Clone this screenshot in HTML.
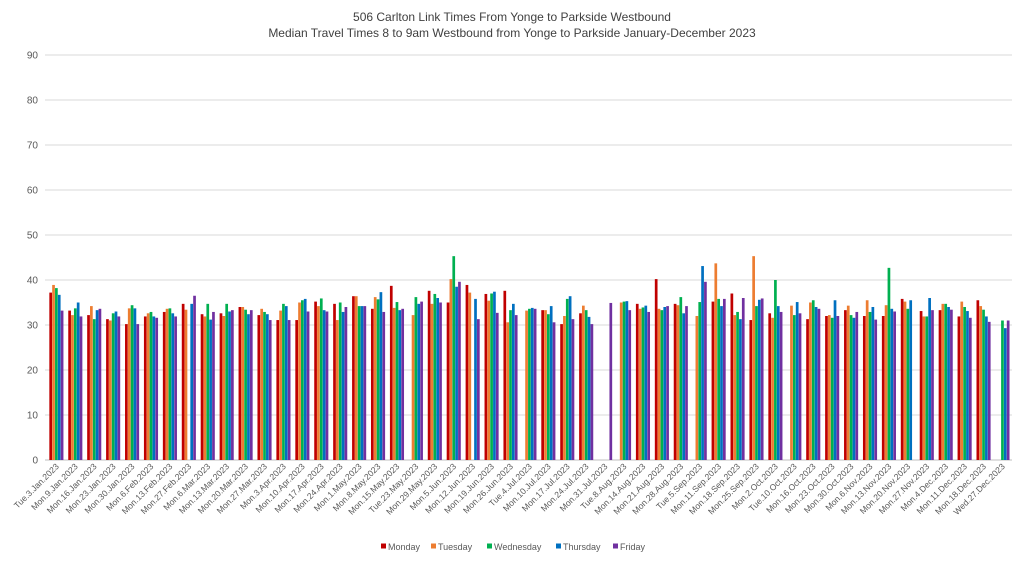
<!DOCTYPE html>
<html><head><meta charset="utf-8"><style>
html,body{margin:0;padding:0;background:#fff;}
svg{display:block;font-family:"Liberation Sans",sans-serif;}
</style></head><body>
<svg id="chart" width="1024" height="563" viewBox="0 0 1024 563">
<text x="512" y="21" text-anchor="middle" font-size="12" fill="#404040">506 Carlton Link Times From Yonge to Parkside Westbound</text>
<text x="512" y="37" text-anchor="middle" font-size="12" fill="#404040">Median Travel Times 8 to 9am Westbound from Yonge to Parkside January-December 2023</text>
<g id="grid"></g>
<g id="yaxis"></g>
<g id="bars"></g>
<g id="xaxis"></g>
<g id="legend"></g>
</svg>
<script>
const categories=["Tue.3.Jan.2023","Mon.9.Jan.2023","Mon.16.Jan.2023","Mon.23.Jan.2023","Mon.30.Jan.2023","Mon.6.Feb.2023","Mon.13.Feb.2023","Mon.27.Feb.2023","Mon.6.Mar.2023","Mon.13.Mar.2023","Mon.20.Mar.2023","Mon.27.Mar.2023","Mon.3.Apr.2023","Mon.10.Apr.2023","Mon.17.Apr.2023","Mon.24.Apr.2023","Mon.1.May.2023","Mon.8.May.2023","Mon.15.May.2023","Tue.23.May.2023","Mon.29.May.2023","Mon.5.Jun.2023","Mon.12.Jun.2023","Mon.19.Jun.2023","Mon.26.Jun.2023","Tue.4.Jul.2023","Mon.10.Jul.2023","Mon.17.Jul.2023","Mon.24.Jul.2023","Mon.31.Jul.2023","Tue.8.Aug.2023","Mon.14.Aug.2023","Mon.21.Aug.2023","Mon.28.Aug.2023","Tue.5.Sep.2023","Mon.11.Sep.2023","Mon.18.Sep.2023","Mon.25.Sep.2023","Mon.2.Oct.2023","Tue.10.Oct.2023","Mon.16.Oct.2023","Mon.23.Oct.2023","Mon.30.Oct.2023","Mon.6.Nov.2023","Mon.13.Nov.2023","Mon.20.Nov.2023","Mon.27.Nov.2023","Mon.4.Dec.2023","Mon.11.Dec.2023","Mon.18.Dec.2023","Wed.27.Dec.2023"];
const monday=[37.2,33.2,32.2,31.3,30.2,31.9,32.9,34.7,32.4,32.6,34,32.2,31.1,31.1,35.2,34.7,36.4,33.6,38.7,null,37.6,35,38.9,36.9,37.6,null,33.3,30.2,32.6,null,null,34.7,40.2,34.7,null,35.2,37,31.1,32.6,null,31.3,32,33.3,32,32,35.8,33.1,33.3,31.9,35.5,null];
const tuesday=[38.9,32.2,34.2,31,33.7,32.6,33.6,33.4,31.9,32,34,33.6,33.2,35,34.2,31.1,36.4,36.2,33.8,32.2,34.7,40.2,37.2,35.4,30.6,33.2,33.3,32,34.3,null,35,33.6,33.6,34.4,32,43.7,32.2,45.3,31.6,34.3,35,32.2,34.3,35.5,34.4,35.2,31.9,34.7,35.2,34.2,null];
const wednesday=[38.2,33.7,31.3,32.6,34.4,32.9,33.7,null,34.7,34.7,33.4,32.9,34.7,35.5,35.9,35,34.2,35.7,35.1,36.2,36.9,45.3,null,37,33.3,33.6,32.4,35.8,33.3,null,35.2,33.9,33.3,36.2,35.1,35.8,32.9,34.2,40,32.2,35.5,31.6,32.2,32.9,42.7,33.6,31.9,34.7,34,33.4,31];
const thursday=[36.7,35,33.3,33,33.7,31.9,32.6,34.7,31.2,33,32.4,32.4,34.2,35.8,33.3,32.9,34.2,37.3,33.3,34.7,36,38.5,35.8,37.4,34.7,33.8,34.2,36.4,31.8,null,35.3,34.3,34,32.6,43.1,34.2,31.3,35.6,34.2,35.1,34,35.5,31.6,34,33.6,35.5,36,34,33.1,31.9,29.3];
const friday=[33.2,31.9,33.6,31.9,30.2,31.6,31.9,36.5,32.9,33.3,33.3,31.1,31.1,33,33,34,34.2,32.9,33.6,35.2,35,39.6,31.3,32.7,32.2,33.6,30.6,31.3,30.2,34.9,33.3,32.9,34.2,34.2,39.6,35.8,36,35.9,32.9,32.6,33.6,32,32.9,31.2,33,null,33.3,33.4,31.6,30.7,31];
const seriesNames=["Monday","Tuesday","Wednesday","Thursday","Friday"];
const yTicks=[0,10,20,30,40,50,60,70,80,90];
const series=[monday,tuesday,wednesday,thursday,friday];
const colors=["#C00000","#ED7D31","#00B050","#0070C0","#7030A0"];
const NS="http://www.w3.org/2000/svg";
const X0=47,X1=1012,Y0=460,Y1=55,YMAX=90;
const y=v=>Y0-(v/YMAX)*(Y0-Y1);
const cw=(X1-X0)/categories.length;
const x=i=>X0+i*cw;
function mk(tag,attrs,parent){const e=document.createElementNS(NS,tag);for(const k in attrs)e.setAttribute(k,attrs[k]);parent.appendChild(e);return e;}
const grid=document.getElementById('grid'),yax=document.getElementById('yaxis'),bars=document.getElementById('bars'),xax=document.getElementById('xaxis'),leg=document.getElementById('legend');
yTicks.forEach(t=>{
  const l=mk('line',{x1:X0-2,x2:X1,y1:y(t),y2:y(t),stroke:t===0?'#bfbfbf':'#d9d9d9','stroke-width':1},grid);
  
  
  const tx=mk('text',{x:X0-9,y:y(t)+3.5,'text-anchor':'end','font-size':10,fill:'#595959'},yax);
  tx.textContent=t;
  
  
});
const bw=2.7,bs=2.85;
categories.forEach((c,i)=>{
  const gx=x(i)+(cw-5*bs)/2;
  series.forEach((s,j)=>{
    const v=s[i];
    if(v==null)return;
    const r=mk('rect',{x:gx+j*bs,y:y(v),width:bw,height:Y0-y(v),fill:colors[j]},bars);
    
    
  });
  const cx=x(i)+cw/2+3;
  const t=mk('text',{x:cx,y:467,'text-anchor':'end','font-size':8.6,fill:'#595959',transform:`rotate(-45 ${cx} 467)`},xax);
  t.textContent=c;
  
  
});
let lx=381;
const lw=[36,42,55,43,33];
seriesNames.forEach((n,j)=>{
  const g=mk('g',{},leg);
  
  
  mk('rect',{x:lx,y:543.5,width:5,height:5,fill:colors[j]},g);
  const t=mk('text',{x:lx+7,y:550,'font-size':9,fill:'#595959'},g);
  t.textContent=n;
  lx+=lw[j]+14;
});
</script>
</body></html>
